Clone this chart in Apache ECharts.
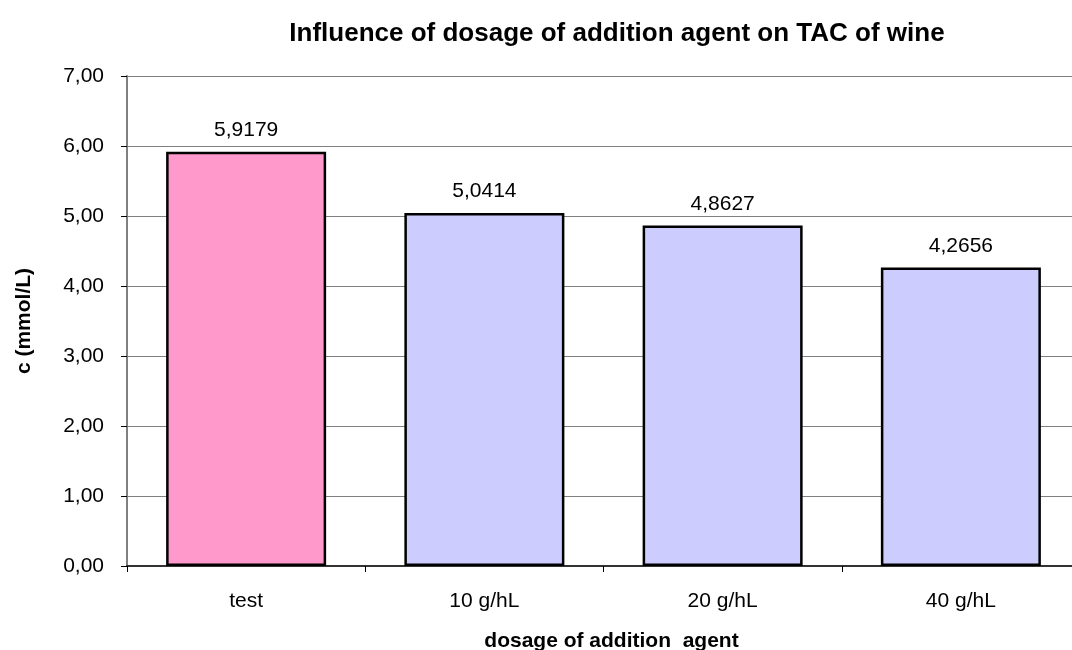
<!DOCTYPE html>
<html>
<head>
<meta charset="utf-8">
<script src="https://cdn.jsdelivr.net/npm/echarts@6/dist/echarts.min.js"></script>
<style>
  html, body { margin: 0; padding: 0; background: #fff; }
  #chart { width: 1072px; height: 650px; }
</style>
</head>
<body>
<div id="chart"></div>
<script>
// datos del gráfico
const categorias = ["test", "10 g/hL", "20 g/hL", "40 g/hL"];
const valores = [5.9179, 5.0414, 4.8627, 4.2656];
const colores = ["#ff99cc", "#ccccff", "#ccccff", "#ccccff"];

const fuente = "Liberation Sans, Arial, sans-serif";
const coma = v => String(v).replace(".", ",");

const chart = echarts.init(document.getElementById("chart"));

const option = {
  backgroundColor: "#fff",
  animation: false,
  title: {
    text: "Influence of dosage of addition agent on TAC of wine",
    left: 612,
    top: 16,
    textAlign: "center",
    textStyle: { fontFamily: fuente, fontSize: 26, fontWeight: "bold", color: "#000" }
  },
  grid: { left: 127, top: 76, width: 953, height: 490, outerBoundsMode: "none", containLabel: false },
  xAxis: {
    type: "category",
    data: categorias,
    name: "dosage of addition  agent",
    nameLocation: "middle",
    nameGap: 65,
    nameTextStyle: { fontFamily: fuente, fontSize: 21, fontWeight: "bold", color: "#000", padding: [0, 0, 0, 16] },
    axisLine: { lineStyle: { color: "#333", width: 2 } },
    axisTick: { show: true, alignWithLabel: false, length: 6, lineStyle: { color: "#000" } },
    axisLabel: { fontFamily: fuente, fontSize: 21, color: "#000", margin: 25 }
  },
  yAxis: {
    type: "value",
    min: 0,
    max: 7,
    interval: 1,
    name: "c (mmol/L)",
    nameLocation: "middle",
    nameGap: 92,
    nameTextStyle: { fontFamily: fuente, fontSize: 21, fontWeight: "bold", color: "#000" },
    axisLine: { show: true, lineStyle: { color: "#808080", width: 2 } },
    axisTick: { show: true, length: 6, lineStyle: { color: "#000" } },
    axisLabel: {
      fontFamily: fuente, fontSize: 21, color: "#000", margin: 23,
      formatter: v => v.toFixed(2).replace(".", ",")
    },
    splitLine: { lineStyle: { color: "#808080", width: 1 } }
  },
  series: [{
    type: "bar",
    data: valores.map((v, i) => ({ value: v, itemStyle: { color: colores[i] } })),
    barWidth: 160,
    itemStyle: { borderColor: "#000", borderWidth: 2.5 },
    label: {
      show: true,
      position: "top",
      distance: 11,
      fontFamily: fuente,
      fontSize: 21,
      color: "#000",
      formatter: p => coma(p.value)
    }
  }]
};

chart.setOption(option);
</script>
</body>
</html>
